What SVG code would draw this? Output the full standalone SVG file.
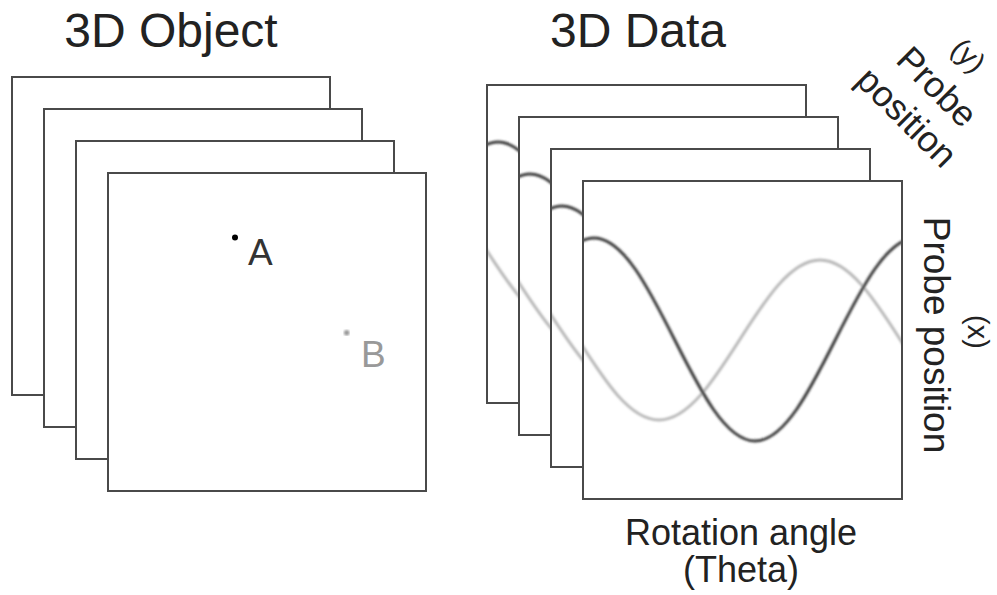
<svg xmlns="http://www.w3.org/2000/svg" xmlns:xlink="http://www.w3.org/1999/xlink" width="997" height="595" viewBox="0 0 997 595">
  <style>
    .frame { fill: #ffffff; stroke: #4a4a4a; stroke-width: 2; }
    .title { font-family: "Liberation Sans", Arial, sans-serif; font-size: 48px; fill: #222222; text-anchor: middle; }
    .label { font-family: "Liberation Sans", Arial, sans-serif; font-size: 36px; fill: #222222; text-anchor: middle; }
    .small { font-family: "Liberation Sans", Arial, sans-serif; font-size: 29px; fill: #222222; text-anchor: middle; }
    .dark { fill: none; stroke: #3c3c3c; stroke-width: 3; }
    .light { fill: none; stroke: #b8b8b8; stroke-width: 3; }
  </style>
  <defs>
    <filter id="soft" x="-5%" y="-5%" width="110%" height="110%">
      <feGaussianBlur stdDeviation="0.8"/>
    </filter>
    <clipPath id="clipFront">
      <rect x="583" y="181" width="319" height="318"/>
    </clipPath>
    <g id="sliceTpl">
      <rect class="frame" x="583" y="181" width="319" height="318"/>
      <g clip-path="url(#clipFront)">
        <g filter="url(#soft)">
          <path class="light" d="M498,260 C527.13,260 552.25,299 578.5,340 C604.75,381 629.87,420 659,420 C688.13,420 713.25,381 739.5,340 C765.75,299 790.87,260 820,260 C849.13,260 874.25,299 900.5,340 C926.75,381 951.87,420 981,420"/>
          <path class="dark" d="M513.5,339.5 C539.75,287.5 564.87,238 594,238 C623.13,238 648.25,287.5 674.5,339.5 C700.75,391.5 725.87,441 755,441 C784.13,441 809.25,391.5 835.5,339.5 C861.75,287.5 886.87,238 916,238"/>
        </g>
      </g>
      <rect x="583" y="181" width="319" height="318" fill="none" stroke="#4a4a4a" stroke-width="2"/>
    </g>
  </defs>

  <g id="title-object"><text class="title" x="171" y="47">3D Object</text></g>
  <g id="title-data"><text class="title" x="638" y="47">3D Data</text></g>

  <g id="object-slice-1"><rect class="frame" x="12" y="77" width="318" height="318"/></g>
  <g id="object-slice-2"><rect class="frame" x="44" y="109" width="318" height="318"/></g>
  <g id="object-slice-3"><rect class="frame" x="76" y="141" width="318" height="318"/></g>
  <g id="object-slice-4">
    <rect class="frame" x="108" y="173" width="318" height="318"/>
    <g id="point-a">
      <circle cx="235" cy="237.5" r="3" fill="#000000"/>
      <text x="248" y="265" font-family="Liberation Sans, Arial, sans-serif" font-size="37" fill="#333333">A</text>
    </g>
    <g id="point-b">
      <circle cx="346.7" cy="332.7" r="2.8" fill="#999999" filter="url(#soft)"/>
      <text x="361" y="367" font-family="Liberation Sans, Arial, sans-serif" font-size="37" fill="#999999">B</text>
    </g>
  </g>

  <g id="data-slice-1"><use xlink:href="#sliceTpl" transform="translate(-96,-96)"/></g>
  <g id="data-slice-2"><use xlink:href="#sliceTpl" transform="translate(-64,-64)"/></g>
  <g id="data-slice-3"><use xlink:href="#sliceTpl" transform="translate(-32,-32)"/></g>
  <g id="data-slice-4"><use xlink:href="#sliceTpl"/></g>

  <g id="label-y">
    <text class="small" transform="translate(961.5,62.5) rotate(45)">(y)</text>
    <text class="label" transform="translate(928.5,95.5) rotate(45)">Probe</text>
    <text class="label" transform="translate(898.2,125.9) rotate(45)">position</text>
  </g>
  <g id="label-x">
    <text class="small" transform="translate(968,332) rotate(90)">(x)</text>
    <text class="label" transform="translate(923.5,335) rotate(90)" style="font-size:37px">Probe position</text>
  </g>
  <g id="label-theta">
    <text class="label" x="741" y="545">Rotation angle</text>
    <text class="label" x="741" y="582">(Theta)</text>
  </g>
</svg>
